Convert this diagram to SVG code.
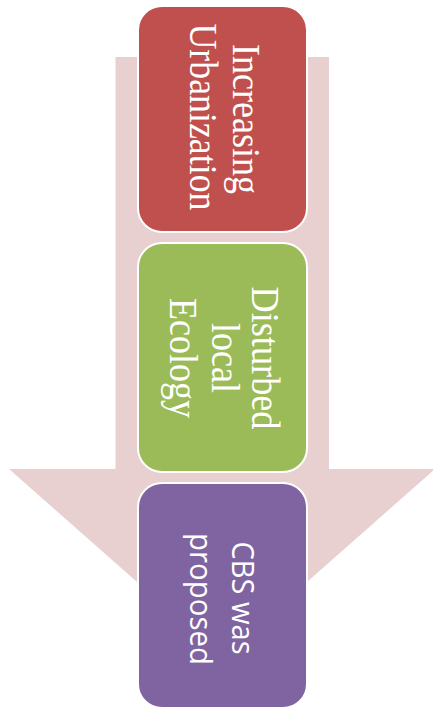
<svg xmlns="http://www.w3.org/2000/svg" width="433" height="709" viewBox="0 0 433 709">
<style>
.box{stroke:#FFFFFF;stroke-width:2}
.serif{font-family:"Liberation Serif","Times New Roman",serif;font-size:39px;fill:#FFFFFF;text-anchor:middle}
.sans{font-family:"Open Sans","Liberation Sans",Arial,sans-serif;font-size:31px;fill:#FFFFFF;text-anchor:middle}
</style>
<g id="connectors">
<path d="M115.5,57 H329 V469 H435 L222,657 L9,469 H115.5 Z" fill="#E8D0D0"/>
</g>
<g id="node-urbanization">
<rect class="box" x="138" y="6" width="169" height="226" rx="24" fill="#C0504D"/>
<g transform="translate(222.5,119) rotate(90)">
<text class="serif" x="0" y="-10.5" textLength="150" lengthAdjust="spacingAndGlyphs">Increasing</text>
<text class="serif" x="-2" y="32.5" textLength="187" lengthAdjust="spacingAndGlyphs">Urbanization</text>
</g>
</g>
<g id="node-ecology">
<rect class="box" x="138" y="243" width="169" height="229" rx="24" fill="#9BBB59"/>
<g transform="translate(222.5,358) rotate(90)">
<text class="serif" x="0" y="-29.5" textLength="143" lengthAdjust="spacingAndGlyphs">Disturbed</text>
<text class="serif" x="0" y="10.5" textLength="70" lengthAdjust="spacingAndGlyphs">local</text>
<text class="serif" x="0" y="52.5" textLength="120" lengthAdjust="spacingAndGlyphs">Ecology</text>
</g>
</g>
<g id="node-cbs">
<rect class="box" x="138" y="483" width="169" height="225" rx="24" fill="#8064A2"/>
<g transform="translate(222.5,598) rotate(90)">
<text class="sans" x="0" y="-9.5" textLength="113" lengthAdjust="spacingAndGlyphs">CBS was</text>
<text class="sans" x="1" y="32.5" textLength="132" lengthAdjust="spacingAndGlyphs">proposed</text>
</g>
</g>
</svg>
